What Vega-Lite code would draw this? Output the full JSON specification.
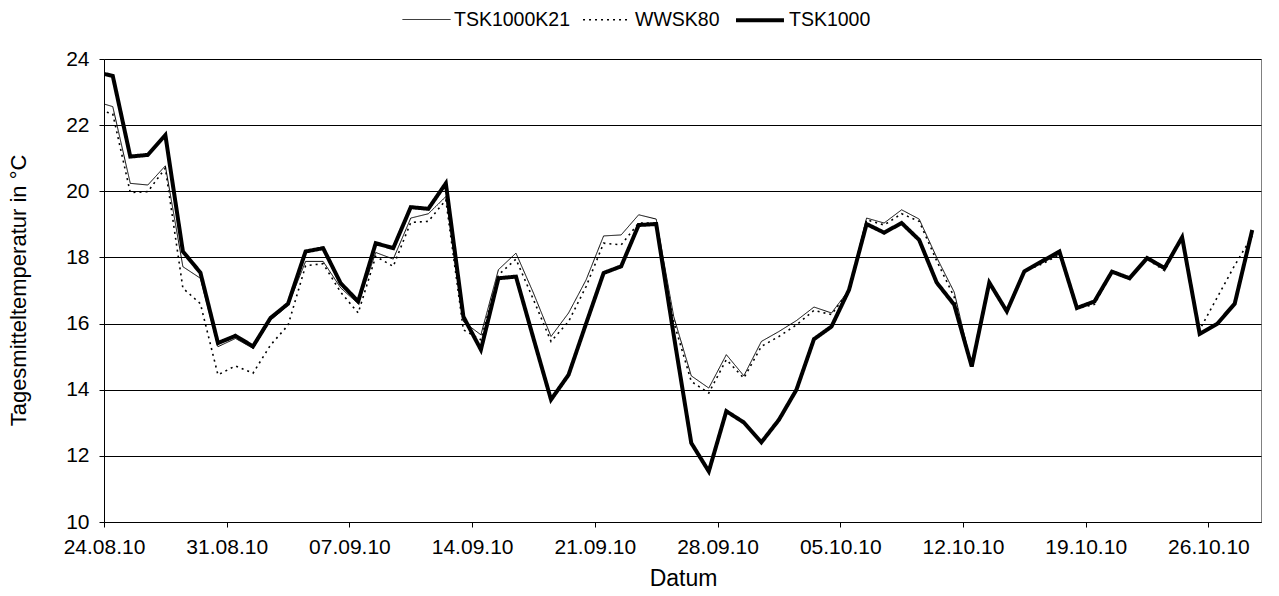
{
  "$schema": "https://vega.github.io/schema/vega-lite/v6.json",
  "width": 1157,
  "height": 463,
  "autosize": "none",
  "padding": {"left": 104, "top": 59, "right": 18, "bottom": 74},
  "background": "white",
  "config": {
    "font": "Liberation Sans",
    "view": {"stroke": "#808080", "strokeWidth": 1},
    "legend": {"padding": 0}
  },
  "data": {
    "values": [
      {"date": "2010-08-23T12:00", "TSK1000K21": 22.72, "WWSK80": 22.48, "TSK1000": 23.61},
      {"date": "2010-08-24T12:00", "TSK1000K21": 22.56, "WWSK80": 22.34, "TSK1000": 23.49},
      {"date": "2010-08-25T12:00", "TSK1000K21": 20.24, "WWSK80": 19.96, "TSK1000": 21.05},
      {"date": "2010-08-26T12:00", "TSK1000K21": 20.19, "WWSK80": 19.99, "TSK1000": 21.10},
      {"date": "2010-08-27T12:00", "TSK1000K21": 20.77, "WWSK80": 20.70, "TSK1000": 21.70},
      {"date": "2010-08-28T12:00", "TSK1000K21": 17.72, "WWSK80": 17.07, "TSK1000": 18.18},
      {"date": "2010-08-29T12:00", "TSK1000K21": 17.37, "WWSK80": 16.60, "TSK1000": 17.54},
      {"date": "2010-08-30T12:00", "TSK1000K21": 15.30, "WWSK80": 14.45, "TSK1000": 15.41},
      {"date": "2010-08-31T12:00", "TSK1000K21": 15.55, "WWSK80": 14.72, "TSK1000": 15.63},
      {"date": "2010-09-01T12:00", "TSK1000K21": 15.25, "WWSK80": 14.50, "TSK1000": 15.31},
      {"date": "2010-09-02T12:00", "TSK1000K21": 16.10, "WWSK80": 15.35, "TSK1000": 16.17},
      {"date": "2010-09-03T12:00", "TSK1000K21": 16.55, "WWSK80": 15.95, "TSK1000": 16.60},
      {"date": "2010-09-04T12:00", "TSK1000K21": 17.88, "WWSK80": 17.75, "TSK1000": 18.18},
      {"date": "2010-09-05T12:00", "TSK1000K21": 17.88, "WWSK80": 17.81, "TSK1000": 18.28},
      {"date": "2010-09-06T12:00", "TSK1000K21": 17.08, "WWSK80": 16.95, "TSK1000": 17.22},
      {"date": "2010-09-07T12:00", "TSK1000K21": 16.60, "WWSK80": 16.32, "TSK1000": 16.67},
      {"date": "2010-09-08T12:00", "TSK1000K21": 18.15, "WWSK80": 18.03, "TSK1000": 18.43},
      {"date": "2010-09-09T12:00", "TSK1000K21": 17.95, "WWSK80": 17.73, "TSK1000": 18.28},
      {"date": "2010-09-10T12:00", "TSK1000K21": 19.19, "WWSK80": 19.06, "TSK1000": 19.52},
      {"date": "2010-09-11T12:00", "TSK1000K21": 19.32, "WWSK80": 19.09, "TSK1000": 19.47},
      {"date": "2010-09-12T12:00", "TSK1000K21": 19.84, "WWSK80": 19.74, "TSK1000": 20.24},
      {"date": "2010-09-13T12:00", "TSK1000K21": 16.06, "WWSK80": 15.81, "TSK1000": 16.21},
      {"date": "2010-09-14T12:00", "TSK1000K21": 15.66, "WWSK80": 15.51, "TSK1000": 15.21},
      {"date": "2010-09-15T12:00", "TSK1000K21": 17.63, "WWSK80": 17.47, "TSK1000": 17.37},
      {"date": "2010-09-16T12:00", "TSK1000K21": 18.13, "WWSK80": 17.95, "TSK1000": 17.42},
      {"date": "2010-09-17T12:00", "TSK1000K21": 16.92, "WWSK80": 16.72, "TSK1000": 15.55},
      {"date": "2010-09-18T12:00", "TSK1000K21": 15.61, "WWSK80": 15.46, "TSK1000": 13.70},
      {"date": "2010-09-19T12:00", "TSK1000K21": 16.32, "WWSK80": 16.06, "TSK1000": 14.45},
      {"date": "2010-09-20T12:00", "TSK1000K21": 17.32, "WWSK80": 17.12, "TSK1000": 16.00},
      {"date": "2010-09-21T12:00", "TSK1000K21": 18.65, "WWSK80": 18.43, "TSK1000": 17.53},
      {"date": "2010-09-22T12:00", "TSK1000K21": 18.68, "WWSK80": 18.38, "TSK1000": 17.73},
      {"date": "2010-09-23T12:00", "TSK1000K21": 19.29, "WWSK80": 19.04, "TSK1000": 18.98},
      {"date": "2010-09-24T12:00", "TSK1000K21": 19.16, "WWSK80": 19.04, "TSK1000": 19.01},
      {"date": "2010-09-25T12:00", "TSK1000K21": 16.21, "WWSK80": 16.05, "TSK1000": 15.65},
      {"date": "2010-09-26T12:00", "TSK1000K21": 14.42, "WWSK80": 14.25, "TSK1000": 12.39},
      {"date": "2010-09-27T12:00", "TSK1000K21": 14.05, "WWSK80": 13.90, "TSK1000": 11.53},
      {"date": "2010-09-28T12:00", "TSK1000K21": 15.06, "WWSK80": 14.91, "TSK1000": 13.35},
      {"date": "2010-09-29T12:00", "TSK1000K21": 14.42, "WWSK80": 14.35, "TSK1000": 13.01},
      {"date": "2010-09-30T12:00", "TSK1000K21": 15.46, "WWSK80": 15.31, "TSK1000": 12.41},
      {"date": "2010-10-01T12:00", "TSK1000K21": 15.76, "WWSK80": 15.61, "TSK1000": 13.09},
      {"date": "2010-10-02T12:00", "TSK1000K21": 16.09, "WWSK80": 15.96, "TSK1000": 14.00},
      {"date": "2010-10-03T12:00", "TSK1000K21": 16.50, "WWSK80": 16.40, "TSK1000": 15.53},
      {"date": "2010-10-04T12:00", "TSK1000K21": 16.32, "WWSK80": 16.27, "TSK1000": 15.91},
      {"date": "2010-10-05T12:00", "TSK1000K21": 17.02, "WWSK80": 17.00, "TSK1000": 17.02},
      {"date": "2010-10-06T12:00", "TSK1000K21": 19.19, "WWSK80": 19.14, "TSK1000": 19.01},
      {"date": "2010-10-07T12:00", "TSK1000K21": 19.04, "WWSK80": 18.98, "TSK1000": 18.75},
      {"date": "2010-10-08T12:00", "TSK1000K21": 19.44, "WWSK80": 19.32, "TSK1000": 19.04},
      {"date": "2010-10-09T12:00", "TSK1000K21": 19.16, "WWSK80": 19.09, "TSK1000": 18.53},
      {"date": "2010-10-10T12:00", "TSK1000K21": 18.00, "WWSK80": 17.90, "TSK1000": 17.24},
      {"date": "2010-10-11T12:00", "TSK1000K21": 16.95, "WWSK80": 16.80, "TSK1000": 16.57},
      {"date": "2010-10-12T12:00", "TSK1000K21": 14.70, "WWSK80": 14.70, "TSK1000": 14.70},
      {"date": "2010-10-13T12:00", "TSK1000K21": 17.24, "WWSK80": 17.24, "TSK1000": 17.24},
      {"date": "2010-10-14T12:00", "TSK1000K21": 16.37, "WWSK80": 16.37, "TSK1000": 16.37},
      {"date": "2010-10-15T12:00", "TSK1000K21": 17.58, "WWSK80": 17.58, "TSK1000": 17.58},
      {"date": "2010-10-16T12:00", "TSK1000K21": 17.83, "WWSK80": 17.80, "TSK1000": 17.88},
      {"date": "2010-10-17T12:00", "TSK1000K21": 18.10, "WWSK80": 18.08, "TSK1000": 18.18},
      {"date": "2010-10-18T12:00", "TSK1000K21": 16.47, "WWSK80": 16.45, "TSK1000": 16.47},
      {"date": "2010-10-19T12:00", "TSK1000K21": 16.62, "WWSK80": 16.58, "TSK1000": 16.67},
      {"date": "2010-10-20T12:00", "TSK1000K21": 17.57, "WWSK80": 17.55, "TSK1000": 17.57},
      {"date": "2010-10-21T12:00", "TSK1000K21": 17.37, "WWSK80": 17.35, "TSK1000": 17.37},
      {"date": "2010-10-22T12:00", "TSK1000K21": 17.98, "WWSK80": 17.95, "TSK1000": 17.98},
      {"date": "2010-10-23T12:00", "TSK1000K21": 17.62, "WWSK80": 17.60, "TSK1000": 17.68},
      {"date": "2010-10-24T12:00", "TSK1000K21": 18.61, "WWSK80": 18.61, "TSK1000": 18.61},
      {"date": "2010-10-25T12:00", "TSK1000K21": 15.69, "WWSK80": 15.81, "TSK1000": 15.69},
      {"date": "2010-10-26T12:00", "TSK1000K21": 15.99, "WWSK80": 16.79, "TSK1000": 15.99},
      {"date": "2010-10-27T12:00", "TSK1000K21": 16.60, "WWSK80": 17.76, "TSK1000": 16.60},
      {"date": "2010-10-28T12:00", "TSK1000K21": 18.80, "WWSK80": 18.65, "TSK1000": 18.83}
    ]
  },
  "transform": [
    {"fold": ["TSK1000K21", "WWSK80", "TSK1000"], "as": ["series", "value"]}
  ],
  "mark": {"type": "line", "clip": true, "strokeJoin": "miter", "strokeCap": "butt"},
  "encoding": {
    "x": {
      "field": "date",
      "type": "temporal",
      "scale": {"domain": [{"year": 2010, "month": 8, "date": 24}, {"year": 2010, "month": 10, "date": 29}]},
      "axis": {
        "values": [
          {"year": 2010, "month": 8, "date": 24},
          {"year": 2010, "month": 8, "date": 31},
          {"year": 2010, "month": 9, "date": 7},
          {"year": 2010, "month": 9, "date": 14},
          {"year": 2010, "month": 9, "date": 21},
          {"year": 2010, "month": 9, "date": 28},
          {"year": 2010, "month": 10, "date": 5},
          {"year": 2010, "month": 10, "date": 12},
          {"year": 2010, "month": 10, "date": 19},
          {"year": 2010, "month": 10, "date": 26}
        ],
        "format": "%d.%m.%y",
        "labelFontSize": 21,
        "labelColor": "#000",
        "labelPadding": 9,
        "labelFlush": false,
        "labelOverlap": false,
        "labelAngle": 0,
        "grid": false,
        "domainColor": "#000",
        "tickColor": "#000",
        "tickSize": 5,
        "title": "Datum",
        "titleFontSize": 23,
        "titleFontWeight": "normal",
        "titleColor": "#000",
        "titleX": 579,
        "titleY": 56,
        "titleBaseline": "middle"
      }
    },
    "y": {
      "field": "value",
      "type": "quantitative",
      "scale": {"domain": [10, 24], "nice": false},
      "axis": {
        "values": [10, 12, 14, 16, 18, 20, 22, 24],
        "labelFontSize": 21,
        "labelColor": "#000",
        "labelPadding": 10,
        "grid": true,
        "gridColor": "#000",
        "gridWidth": 1,
        "domainColor": "#000",
        "tickColor": "#000",
        "tickSize": 5,
        "title": "Tagesmitteltemperatur in °C",
        "titleFontSize": 22,
        "titleFontWeight": "normal",
        "titleColor": "#000",
        "titleAngle": -90,
        "titleX": -86,
        "titleY": 231,
        "titleAlign": "center",
        "titleBaseline": "middle"
      }
    },
    "stroke": {
      "field": "series",
      "type": "nominal",
      "scale": {"domain": ["TSK1000K21", "WWSK80", "TSK1000"], "range": ["#000", "#000", "#000"]},
      "legend": {"title": null, "orient": "none", "direction": "horizontal", "legendX": 298, "legendY": -65, "labelFontSize": 19.5, "labelColor": "#000", "symbolSize": 2300, "symbolType": "stroke", "labelOffset": 3, "columnPadding": 8}
    },
    "strokeDash": {
      "field": "series",
      "type": "nominal",
      "scale": {"domain": ["TSK1000K21", "WWSK80", "TSK1000"], "range": [[1, 0], [2, 4], [1, 0]]},
      "legend": {"title": null, "orient": "none", "direction": "horizontal", "legendX": 298, "legendY": -65, "labelFontSize": 19.5, "labelColor": "#000", "symbolSize": 2300, "symbolType": "stroke", "labelOffset": 3, "columnPadding": 8}
    },
    "strokeWidth": {
      "field": "series",
      "type": "nominal",
      "scale": {"type": "ordinal", "domain": ["TSK1000K21", "WWSK80", "TSK1000"], "range": [1, 1.6, 4]},
      "legend": {"title": null, "orient": "none", "direction": "horizontal", "legendX": 298, "legendY": -65, "labelFontSize": 19.5, "labelColor": "#000", "symbolSize": 2300, "symbolType": "stroke", "labelOffset": 3, "columnPadding": 8}
    }
  }
}
